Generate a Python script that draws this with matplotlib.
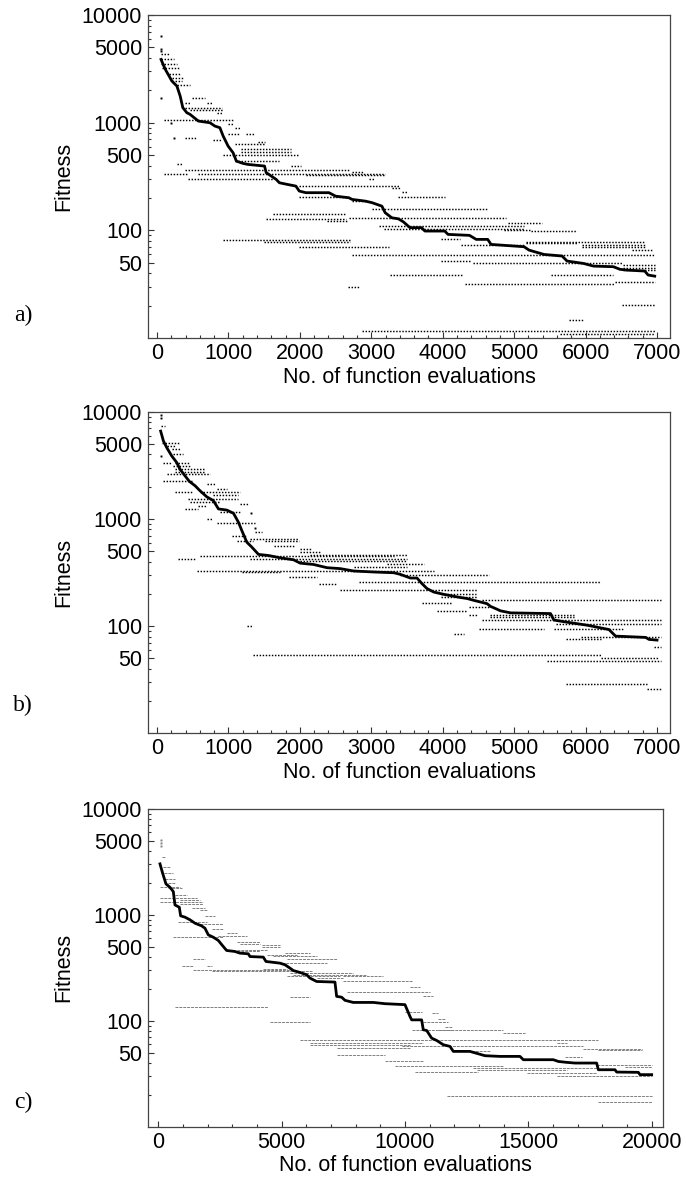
"""
Plot: fitness vs. number of function evaluations, three runs (a, b, c)
"""

import matplotlib
matplotlib.use("Agg")
import matplotlib.pyplot as plt
from matplotlib.ticker import FixedLocator, NullFormatter

plt.rcParams["font.family"] = ["Liberation Sans", "DejaVu Sans"]
plt.rcParams["font.size"] = 15.5

FIGSIZE = (6.86, 11.87)
DPI = 100

# ---------------- panel a ----------------
a_line_x = [56, 116, 208, 278, 324, 361, 417, 463, 579, 741, 810, 880, 926, 995, 1065,
            1111, 1204, 1273, 1505, 1528, 1667, 1713, 1829, 1944, 1991, 2083, 2407, 2500,
            2685, 2731, 2917, 3009, 3148, 3194, 3287, 3380, 3449, 3542, 3704, 3750, 4028,
            4074, 4375, 4468, 4630, 4676, 5139, 5208, 5417, 5671, 5741, 5972, 6111, 6389,
            6481, 6574, 6829, 6875, 6968]
a_line_y = [3870, 3130, 2440, 2190, 1770, 1380, 1240, 1195, 1036, 1000, 931, 899, 752, 607, 526,
            440, 419, 410, 396, 344, 298, 277, 267, 258, 232, 224, 224, 208,
            201, 194, 187, 181, 168, 146, 131, 128, 120, 106, 106, 98.6, 98.6,
            91.8, 89.9, 82.5, 82.5, 74.1, 70.5, 65.6, 59.8, 57.8, 51.9, 49.3, 46.6, 46.0,
            43.5, 42.8, 41.9, 38.5, 37.6]

a_seg_x0 = [56, 56, 56, 69, 162, 162, 208, 278, 486, 394, 694, 394, 463, 833, 93,
            995, 1088, 995, 1241, 394, 787, 1412, 1088, 1181, 1181, 926, 1088, 278, 1875,
            394, 2731, 93, 579, 2083, 440, 2963, 1991, 3287, 3426, 1991, 3380, 2731, 3009,
            1620, 1528, 2685, 2384, 4907, 3102, 3171, 4861, 5231, 926, 1500, 3981, 5162,
            5162, 1991, 4259, 5949, 5949, 6644, 2731, 3981, 4421, 6528, 6528, 6528, 3264,
            5509, 6412, 4306, 6504, 5764, 2676, 2870, 5648]
a_seg_x1 = [162, 231, 278, 301, 315, 361, 347, 463, 671, 903, 764, 463, 926, 926, 1065,
            1065, 1157, 1157, 1366, 565, 903, 1505, 1505, 1875, 1875, 1968, 1713, 370, 2014,
            2708, 2894, 417, 3194, 3194, 1620, 3056, 3400, 3403, 3495, 2685, 4028, 2940, 4630,
            2639, 2639, 4884, 2662, 5394, 5139, 5139, 5231, 5880, 2708, 2708, 4236, 6829,
            5900, 3241, 5139, 6829, 6829, 6944, 6968, 4398, 6528, 6968, 6968, 6968, 4282,
            6389, 6968, 6412, 6968, 5972, 2847, 6968, 6968]
a_seg_y = [4310, 3870, 3480, 3240, 2810, 2620, 2440, 2220, 1706, 1378, 1530, 1530, 1300, 1220, 1059,
           965, 886, 780, 780, 716, 690, 661, 638, 565, 538, 501, 440, 410, 396,
           363, 351, 336, 336, 325, 302, 302, 258, 249, 227, 206, 206, 187, 157,
           143, 128, 131, 122, 118, 110, 104, 101, 98.6, 81.3, 77.5, 83.8, 78.5,
           76.5, 70.5, 73.1, 73.1, 70.5, 65.2, 58.6, 51.9, 49.5, 47.5, 45, 43, 38.8,
           38.5, 33.3, 31.5, 20.3, 14.7, 30.0, 11.6, 10.9]

a_pts_x = [56, 56, 56, 56, 231, 200]
a_pts_y = [6380, 4860, 4600, 1680, 716, 1000]

# ---------------- panel b ----------------
b_line_x = [51, 89, 136, 206, 276, 322, 393, 453, 533, 603, 696, 790, 860, 977, 1070,
            1140, 1187, 1257, 1327, 1421, 1561, 1724, 1911, 2005, 2192, 2379, 2566, 2752,
            3033, 3313, 3407, 3547, 3640, 3710, 3780, 3874, 4014, 4154, 4248, 4341, 4435,
            4528, 4621, 4668, 4738, 4808, 4949, 5509, 5556, 5696, 6023, 6257, 6327, 6420,
            6631, 6841, 6888, 7000]
b_line_y = [6600, 5350, 4630, 3870, 3360, 2910, 2520, 2240, 2040, 1830, 1610, 1480, 1240, 1210, 1130,
            931, 780, 607, 546, 467, 456, 434, 416, 387, 376, 351, 344, 327,
            320, 315, 304, 281, 281, 249, 224, 208, 198, 190, 185, 181, 174,
            168, 162, 153, 146, 139, 133, 131, 114, 110, 102, 95, 93, 80.7,
            79.6, 78.5, 75.2, 74.1]

b_seg_x0 = [51, 65, 136, 206, 229, 89, 252, 229, 252, 252, 136, 89, 696, 837, 252,
            603, 790, 439, 463, 1163, 580, 393, 883, 696, 837, 1374, 1046, 1303, 1116,
            1514, 1631, 2005, 2005, 2145, 603, 299, 1303, 2005, 3220, 2752, 556, 1187,
            3407, 1841, 2822, 2262, 2566, 3981, 3981, 4551, 3710, 4365, 3921, 4365, 4668,
            4668, 4551, 5579, 1257, 4504, 5556, 4154, 5929, 5720, 6958, 1350, 6210, 5463,
            5720, 6864]
b_seg_x1 = [112, 322, 257, 322, 369, 206, 463, 463, 673, 673, 743, 509, 813, 977, 486,
            1163, 1140, 1140, 883, 1280, 696, 580, 1163, 766, 1374, 1467, 1257, 1981, 1350,
            1981, 1935, 2168, 2285, 3500, 3313, 533, 3500, 3500, 3734, 3500, 3874, 1724,
            4645, 2238, 6210, 2519, 4481, 4471, 4481, 7051, 4131, 4645, 4341, 4481, 5836,
            5836, 7051, 7051, 1327, 5416, 6537, 4294, 7051, 6210, 7051, 6210, 7028, 7051,
            6864, 7051]
b_seg_y = [7360, 5150, 4800, 4470, 4070, 3360, 3360, 3130, 2910, 2770, 2620, 2270, 2110, 1900, 1770,
           1770, 1680, 1530, 1450, 1380, 1330, 1240, 1150, 1000, 918, 752, 690, 652, 621,
           621, 557, 526, 497, 464, 450, 425, 425, 404, 382, 356, 328, 320,
           298, 287, 258, 245, 216, 201, 187, 177, 166, 151, 139, 127, 127,
           122, 114, 104, 100, 95, 95, 83.8, 79.6, 75.2, 64.3, 54, 50.1, 47.7,
           28.7, 26]

b_pts_x = [51, 51, 55, 1318, 1370]
b_pts_y = [9300, 8700, 3870, 1130, 819]

# ---------------- panel c ----------------
c_line_x = [68, 176, 311, 473, 608, 676, 851, 905, 1081, 1284, 1486, 1756, 1891, 2027, 2229,
            2432, 2635, 2770, 3108, 3310, 3648, 3716, 4256, 4364, 4932, 5134, 5337, 5472,
            5742, 6012, 6147, 6417, 7160, 7228, 7431, 7566, 7903, 8714, 9187, 9998, 10200,
            10268, 10673, 10741, 10876, 11079, 11282, 11552, 11822, 11957, 12633, 12768,
            12970, 13240, 13848, 14659, 14794, 16010, 16213, 16551, 16889, 17767, 17835,
            18510, 18578, 19456, 19524, 19997]
c_line_y = [3030, 2470, 1960, 1820, 1660, 1240, 1180, 979, 951, 898, 834, 787, 748, 647, 615,
            573, 502, 461, 451, 435, 429, 404, 399, 363, 350, 338, 314, 298,
            286, 272, 253, 235, 232, 170, 167, 156, 149, 149, 145, 142, 110,
            102, 102, 82.2, 81, 68.6, 65.2, 59.4, 57.3, 51.4, 51.4, 50.3,
            48.8, 46.8, 46.1, 46.1, 42.9, 42.9, 41.3, 40.5, 39.9, 39.9, 34.5,
            34.5, 32.8, 32.6, 31.0, 31.0]

c_seg_x0 = [135, 203, 230, 270, 405, 68, 405, 676, 68, 878, 68, 878, 1351, 1689, 1891,
            811, 1689, 2162, 2770, 2432, 608, 3175, 3310, 4188, 4188, 3175, 3175, 5134,
            4391, 4661, 1419, 5201, 4864, 946, 1959, 4256, 1419, 2162, 5337, 5472, 5201,
            7498, 6417, 7498, 10200, 7633, 10741, 5337, 676, 9998, 11079, 11349, 4526,
            10741, 11619, 11349, 10268, 13983, 5742, 6147, 16146, 6147, 9863, 7228, 17227,
            17835, 11890, 7228, 16483, 9187, 17767, 9592, 18916, 12768, 12903, 10403,
            14929, 16146, 11687, 17835]
c_seg_x1 = [270, 473, 608, 676, 676, 878, 946, 1148, 1554, 1689, 1824, 1824, 1891, 1959, 2297,
            1959, 2635, 2635, 3175, 3580, 2635, 4120, 4120, 4931, 4931, 4391, 4120, 6147,
            5607, 6417, 1891, 7228, 6823, 1419, 2162, 5201, 5472, 6215, 7903, 8444, 7363,
            9119, 7498, 10336, 10606, 11011, 11146, 6147, 4459, 10673, 11349, 11619, 6147,
            11755, 11890, 11957, 13983, 14862, 17835, 10741, 16551, 10200, 17227, 10200, 19591,
            19591, 13443, 9187, 17159, 10741, 19997, 13983, 19997, 17767, 16551, 12970,
            17767, 19997, 19997, 19997]
c_seg_y = [3550, 2860, 2470, 2190, 1990, 1820, 1790, 1545, 1440, 1385, 1310, 1270, 1170, 1115, 986,
           865, 822, 738, 672, 625, 615, 560, 532, 514, 496, 468, 451, 435,
           420, 405, 385, 385, 355, 326, 326, 307, 303, 292, 282, 272, 262,
           262, 253, 235, 208, 187, 172, 167, 136, 122, 118, 104, 97,
           97, 87, 82, 81, 76.6, 66.5, 61.5, 61.5, 58.5, 57.3, 55.2, 54.0,
           52.5, 51.4, 47.8, 45.4, 41.3, 38.5, 37.6, 36.6, 35.5, 34.5, 33.0,
           32.1, 29.8, 19.3, 17.0]

c_pts_x = [95, 95, 95]
c_pts_y = [5100, 4750, 4450]

Y_TICKS = [50, 100, 500, 1000, 5000, 10000]
Y_MINOR = [m * 10 ** k for k in (1, 2, 3) for m in (2, 3, 4, 6, 7, 8, 9)]


def draw_panel(ax, lx, ly, sx0, sx1, sy, px, py, xmax, xmaj, xmin, seg_style, label, lab_y):
    ax.hlines(sy, sx0, sx1, **seg_style)
    ax.plot(px, py, linestyle="none", marker="s", ms=1.4, mew=0,
            color=seg_style["colors"])
    ax.plot(lx, ly, color="black", linewidth=2.0, solid_joinstyle="round")

    ax.set_yscale("log")
    ax.set_ylim(10, 10000)
    ax.set_xlim(xmax[0], xmax[1])
    ax.yaxis.set_major_locator(FixedLocator(Y_TICKS))
    ax.set_yticklabels([str(t) for t in Y_TICKS])
    ax.yaxis.set_minor_locator(FixedLocator(Y_MINOR))
    ax.yaxis.set_minor_formatter(NullFormatter())
    ax.set_xticks(xmaj)
    ax.set_xticks(xmin, minor=True)

    ax.tick_params(which="both", direction="in", top=False, right=False, width=0.8,
                   color="#333333")
    ax.tick_params(which="major", length=4)
    ax.tick_params(which="minor", length=2)
    ax.tick_params(axis="y", pad=4.5)
    ax.tick_params(axis="x", pad=3.5)
    for sp in ax.spines.values():
        sp.set_color("#444444")
        sp.set_linewidth(0.9)

    w_px = ax.get_position().width * FIGSIZE[0] * DPI
    ax.set_ylabel("Fitness", va="center")
    ax.yaxis.set_label_coords((63.5 - 148.3) / w_px, 0.5)
    ax.set_xlabel("No. of function evaluations", va="center")
    ax.xaxis.set_label_coords(0.5, -0.121)

    fig = ax.figure
    fig.text(23 / 686, 1 - lab_y / 1187, label, family="Liberation Serif",
             fontsize=17, ha="center", va="center")


fig = plt.figure(figsize=FIGSIZE, dpi=DPI)
ax_a = fig.add_axes([0.2162, 0.7152, 0.7605, 0.2721])
ax_b = fig.add_axes([0.2162, 0.3822, 0.7605, 0.2709])
ax_c = fig.add_axes([0.2162, 0.0508, 0.7499, 0.2677])

dots = dict(colors="black", linewidth=1.05, linestyles=(0, (1, 1.1)))
dashes = dict(colors="#808080", linewidth=0.7, linestyles=(0, (3, 1)))

draw_panel(ax_a, a_line_x, a_line_y, a_seg_x0, a_seg_x1, a_seg_y, a_pts_x, a_pts_y,
           (-122, 7182), range(0, 7001, 1000), range(0, 7001, 200), dots, "a)", 315)
draw_panel(ax_b, b_line_x, b_line_y, b_seg_x0, b_seg_x1, b_seg_y, b_pts_x, b_pts_y,
           (-122, 7182), range(0, 7001, 1000), range(0, 7001, 200), dots, "b)", 705)
draw_panel(ax_c, c_line_x, c_line_y, c_seg_x0, c_seg_x1, c_seg_y, c_pts_x, c_pts_y,
           (-405, 20446), range(0, 20001, 5000), range(0, 20001, 1000), dashes, "c)", 1102)

plt.savefig("out.png", dpi=DPI)
plt.close()
print("Saved: out.png")
